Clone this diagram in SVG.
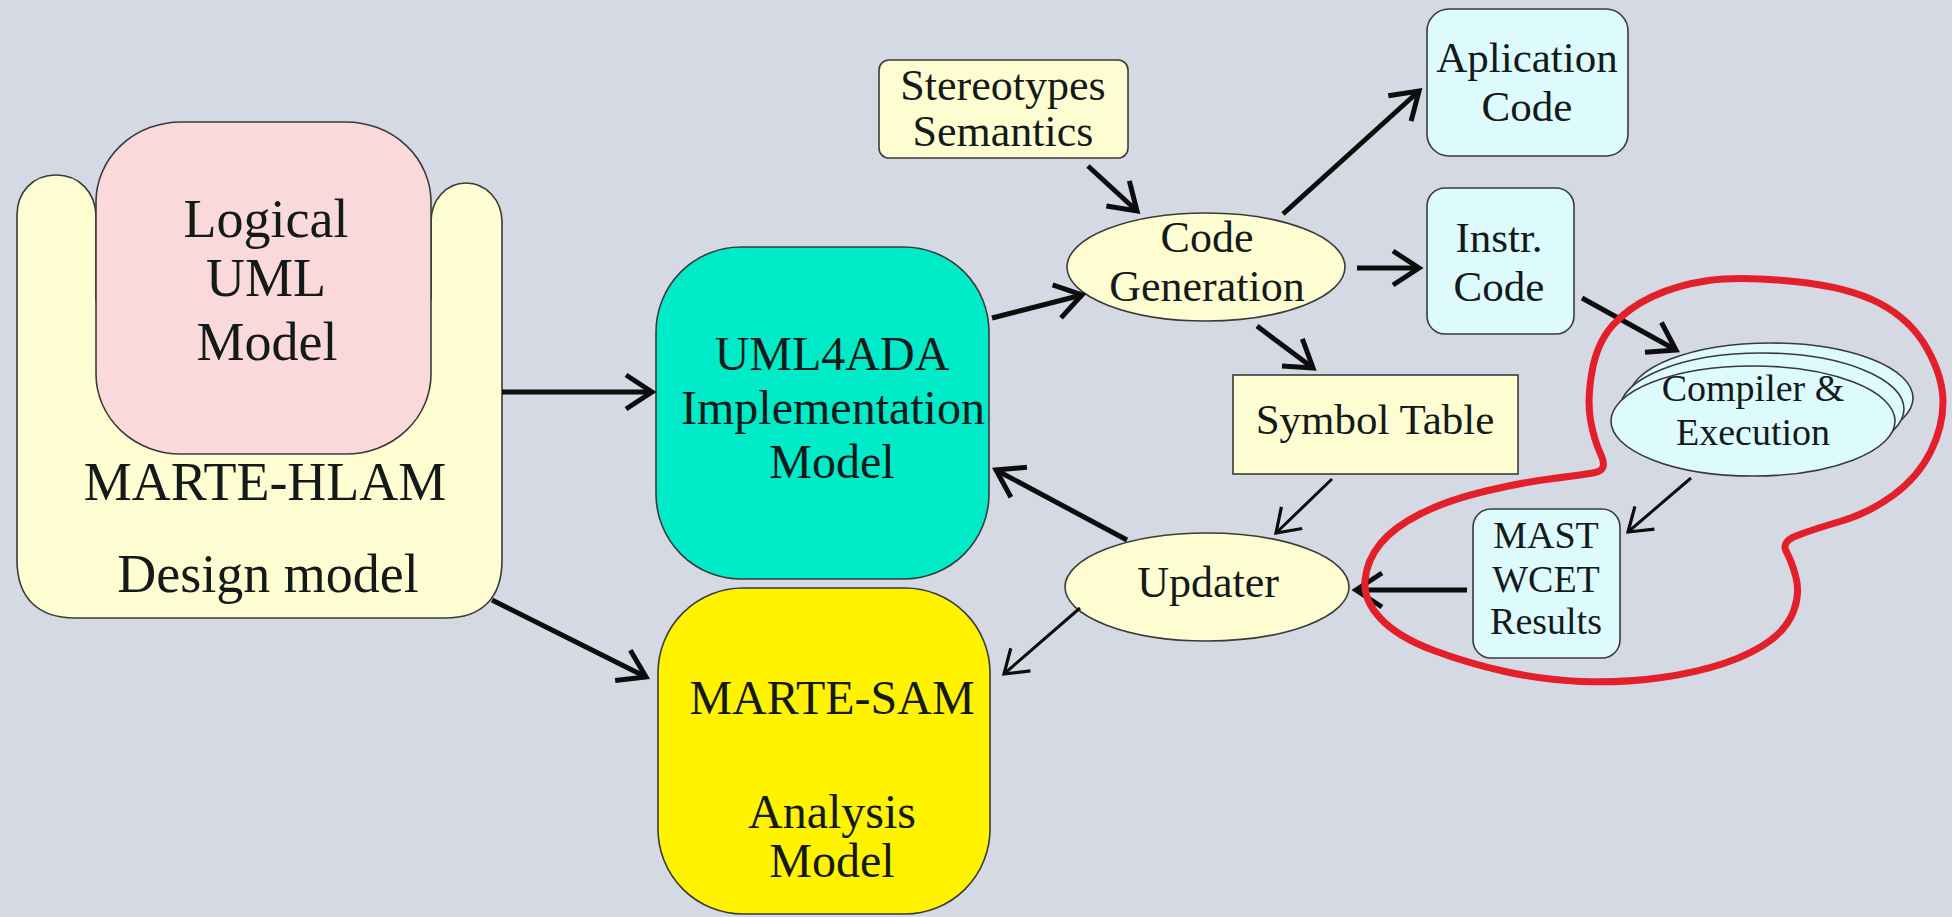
<svg xmlns="http://www.w3.org/2000/svg" width="1952" height="917" viewBox="0 0 1952 917">
  <defs>
    <style>
      text { font-family: "Liberation Serif", "Times New Roman", serif; fill: #141a1a; text-anchor: middle; }
      .t54 { font-size: 54px; }
      .t48 { font-size: 48px; }
      .t44 { font-size: 44px; }
      .t43 { font-size: 43px; }
      .t38 { font-size: 38px; }
      .edge { stroke: #3a3a3a; stroke-width: 1.6; }
      .soft { fill: #fefdd2; }
      .cyan { fill: #ddfbfd; }
      .wire { fill: none; stroke: #0d0d0d; stroke-width: 5; }
      .wire.thin { stroke-width: 3; }
    </style>
    <marker id="head" markerUnits="userSpaceOnUse" viewBox="-30 -20 34 40" markerWidth="34" markerHeight="40" refX="0" refY="0" orient="auto" overflow="visible">
      <path d="M -26,-17 L 0,0 L -26,17" fill="none" stroke="#0d0d0d" stroke-width="5"/>
    </marker>
    <marker id="headThin" markerUnits="userSpaceOnUse" viewBox="-30 -20 34 40" markerWidth="34" markerHeight="40" refX="0" refY="0" orient="auto" overflow="visible">
      <path d="M -22,-15 L 0,0 L -22,15" fill="none" stroke="#0d0d0d" stroke-width="3.2"/>
    </marker>
  </defs>

  <rect width="1952" height="917" fill="#d4d9e4"/>

  <!-- design model: yellow cradle holding the logical model -->
  <g id="marte-hlam">
    <path class="soft edge" d="M 17,560 L 17,215 C 17,192 33,175 56,175 C 79,175 95,192 96,215 L 96,300 L 431,300 L 431,222 C 431,200 446,183 466,183 C 486,183 502,200 502,222 L 502,560 C 502,598 482,618 445,618 L 75,618 C 38,618 17,598 17,560 Z"/>
    <text class="t54" x="265" y="500">MARTE-HLAM</text>
    <text class="t54" x="268" y="592">Design model</text>
  </g>
  <g id="logical-uml">
    <rect class="edge" x="96" y="122" width="335" height="332" rx="85" ry="80" fill="#f9d9d9"/>
    <text class="t54" x="266" y="237">Logical</text>
    <text class="t54" x="266" y="296">UML</text>
    <text class="t54" x="267" y="360">Model</text>
  </g>

  <g id="uml4ada">
    <rect class="edge" x="656" y="247" width="333" height="332" rx="85" ry="85" fill="#00ebc8"/>
    <text class="t48" x="832" y="370">UML4ADA</text>
    <text class="t48" x="833" y="424">Implementation</text>
    <text class="t48" x="832" y="478">Model</text>
  </g>

  <g id="marte-sam">
    <rect class="edge" x="658" y="588" width="332" height="326" rx="85" ry="85" fill="#fff300"/>
    <text class="t48" x="832" y="714">MARTE-SAM</text>
    <text class="t48" x="832" y="828">Analysis</text>
    <text class="t48" x="832" y="877">Model</text>
  </g>

  <g id="stereotypes">
    <rect class="soft edge" x="879" y="60" width="249" height="98" rx="10" ry="10"/>
    <text class="t44" x="1003" y="100">Stereotypes</text>
    <text class="t44" x="1003" y="146">Semantics</text>
  </g>

  <g id="code-generation">
    <ellipse class="soft edge" cx="1206" cy="267" rx="139" ry="54"/>
    <text class="t44" x="1207" y="252">Code</text>
    <text class="t44" x="1207" y="301">Generation</text>
  </g>

  <g id="application-code">
    <rect class="cyan edge" x="1427" y="9" width="201" height="147" rx="22" ry="22"/>
    <text class="t43" x="1527" y="72">Aplication</text>
    <text class="t43" x="1527" y="121">Code</text>
  </g>

  <g id="instr-code">
    <rect class="cyan edge" x="1427" y="188" width="147" height="146" rx="18" ry="18"/>
    <text class="t43" x="1499" y="252">Instr.</text>
    <text class="t43" x="1499" y="301">Code</text>
  </g>

  <g id="symbol-table">
    <rect class="soft edge" x="1233" y="375" width="285" height="99"/>
    <text class="t43" x="1375" y="434">Symbol Table</text>
  </g>

  <g id="compiler">
    <ellipse class="cyan edge" cx="1771" cy="398" rx="142" ry="55"/>
    <ellipse class="cyan edge" cx="1762" cy="409" rx="142" ry="56"/>
    <ellipse class="cyan edge" cx="1753" cy="421" rx="142" ry="55"/>
    <text class="t38" x="1753" y="401">Compiler &amp;</text>
    <text class="t38" x="1753" y="445">Execution</text>
  </g>

  <g id="mast-results">
    <rect class="cyan edge" x="1473" y="509" width="147" height="149" rx="18" ry="18"/>
    <text class="t38" x="1546" y="548">MAST</text>
    <text class="t38" x="1546" y="592">WCET</text>
    <text class="t38" x="1546" y="634">Results</text>
  </g>

  <g id="updater">
    <ellipse class="soft edge" cx="1207" cy="587" rx="142" ry="54"/>
    <text class="t44" x="1208" y="597">Updater</text>
  </g>

  <g id="connectors">
    <line class="wire" x1="502" y1="392" x2="652" y2="392" marker-end="url(#head)"/>
    <line class="wire" x1="492" y1="600" x2="646" y2="677" marker-end="url(#head)"/>
    <line class="wire" x1="992" y1="318" x2="1082" y2="295" marker-end="url(#head)"/>
    <line class="wire" x1="1088" y1="166" x2="1137" y2="211" marker-end="url(#head)"/>
    <line class="wire" x1="1257" y1="326" x2="1313" y2="368" marker-end="url(#head)"/>
    <line class="wire" x1="1283" y1="214" x2="1419" y2="91" marker-end="url(#head)"/>
    <line class="wire" x1="1357" y1="268" x2="1419" y2="268" marker-end="url(#head)"/>
    <line class="wire" x1="1582" y1="298" x2="1676" y2="350" marker-end="url(#head)"/>
    <line class="wire thin" x1="1691" y1="478" x2="1628" y2="532" marker-end="url(#headThin)"/>
    <line class="wire" x1="1467" y1="590" x2="1356" y2="590" marker-end="url(#head)"/>
    <line class="wire thin" x1="1332" y1="479" x2="1276" y2="533" marker-end="url(#headThin)"/>
    <line class="wire" x1="1127" y1="540" x2="996" y2="470" marker-end="url(#head)"/>
    <line class="wire thin" x1="1080" y1="608" x2="1004" y2="674" marker-end="url(#headThin)"/>
  </g>

  <!-- red hand-drawn outline around the compile/measure loop -->
  <g id="highlight">
    <path fill="none" stroke="#e3202a" stroke-width="7" stroke-linejoin="round" d="M 1601,455 Q 1594,440 1590.5,420 Q 1587,400 1592,371.5 Q 1597,343 1612.5,325.5 Q 1628,308 1652.5,296.5 Q 1677,285 1708.5,280.5 Q 1740,276 1794.5,281.5 Q 1849,287 1880,303.5 Q 1911,320 1927,348.5 Q 1943,377 1943,402 Q 1943,427 1930.5,452 Q 1918,477 1893.5,495 Q 1869,513 1840,521.5 Q 1811,530 1796,536 Q 1781,542 1786.5,552 Q 1792,562 1796,577.5 Q 1800,593 1794,610 Q 1788,627 1771,640 Q 1754,653 1725,663 Q 1696,673 1658,678 Q 1620,683 1581.5,681.5 Q 1543,680 1505,671.5 Q 1467,663 1432.5,650 Q 1398,637 1380.5,618.5 Q 1363,600 1365,580 Q 1367,560 1380.5,543.5 Q 1394,527 1421,513.5 Q 1448,500 1486,491 Q 1524,482 1553,478.5 Q 1582,475 1595,472.5 Q 1608,470 1601,455 Z"/>
  </g>
</svg>
